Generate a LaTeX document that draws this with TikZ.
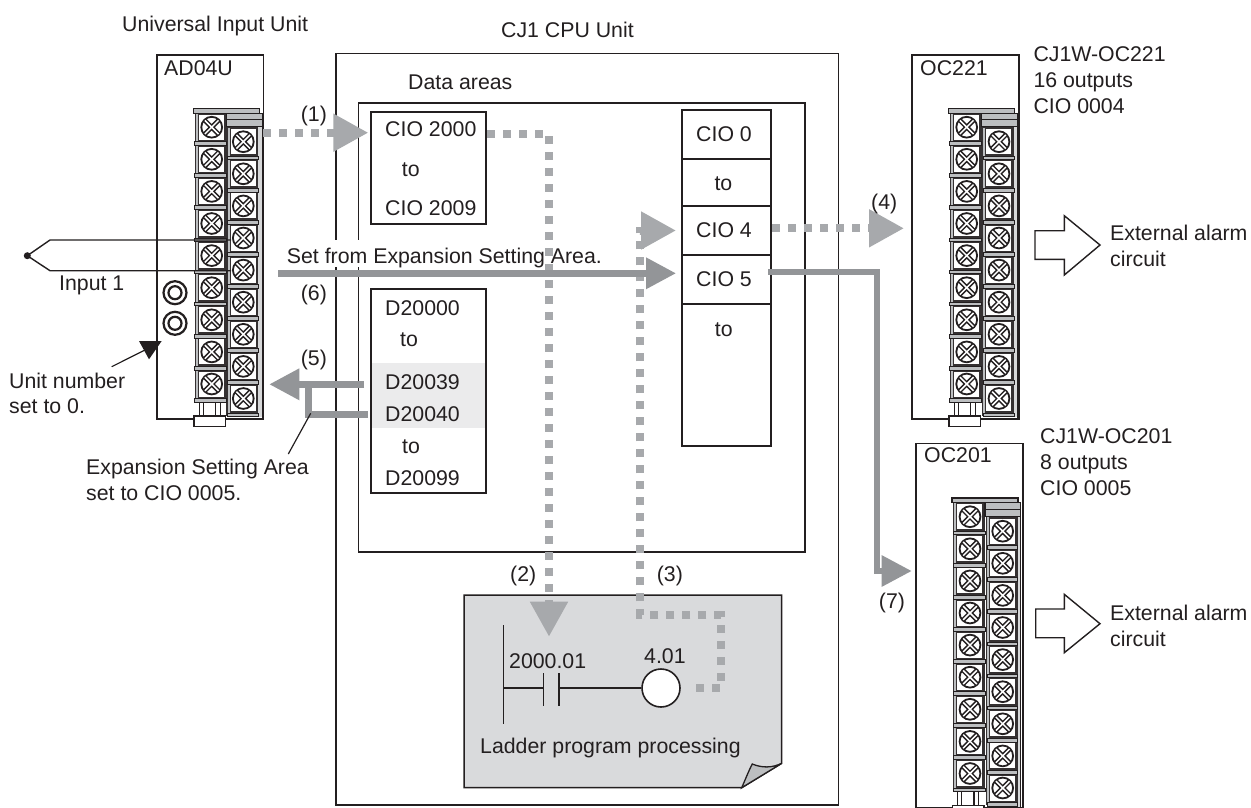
\documentclass[tikz,border=0pt]{standalone}
\usepackage{fontspec}
\setmainfont{Liberation Sans}
\usetikzlibrary{arrows.meta}
\definecolor{ink}{HTML}{231F20}
\definecolor{dashgray}{HTML}{A7A9AC}
\definecolor{solidgray}{HTML}{939598}
\definecolor{midgray}{HTML}{BCBEC0}
\definecolor{paper}{HTML}{D9DADC}
\definecolor{band}{HTML}{EBEBEC}
\tikzset{
  lbl/.style={anchor=base west,inner sep=0pt,font=\fontsize{21.3pt}{25pt}\selectfont,text=ink},
  unitbox/.style={draw=ink,line width=1.5pt,fill=white,anchor=north west,inner sep=0pt},
  membox/.style={draw=ink,line width=1.8pt,anchor=north west,inner sep=0pt},
  dashflow/.style={draw=dashgray,line width=8pt,dash pattern=on 8pt off 8pt},
  solidflow/.style={draw=solidgray,line width=6.5pt},
  bighead/.style={-{Triangle[length=35pt,width=36pt]}},
  midhead/.style={-{Triangle[length=30pt,width=30pt]}},
  thin leader/.style={draw=ink,line width=1.2pt},
  wire/.style={draw=ink,line width=1.4pt},
  bigarrow/.style={draw=ink,line width=1.4pt,fill=white},
}
\newcommand{\screwcell}[2]{%
  \begin{scope}[shift={(#1,#2)}]
    \fill[ink!92] (-17.2,-17) rectangle (15,17);
    \fill[midgray] (-15.6,-14) rectangle (-13.8,14);
    \fill[white] (-12.7,-12.5) rectangle (12.3,12.5);
    \draw[ink,line width=1.8pt,fill=white] (0,0) circle (10.4);
    \draw[ink,line width=4.6pt] (-7,-7) -- (7,7) (-7,7) -- (7,-7);
    \draw[white,line width=1.5pt] (-6.8,-6.8) -- (6.8,6.8) (-6.8,6.8) -- (6.8,-6.8);
  \end{scope}}
\newcommand{\termblock}[3]{%
  \begin{scope}[shift={(#1,#2)}]
    % foot
    \draw[ink,line width=1.3pt] (-12.5,272) -- (-12.5,292) (-8.5,272) -- (-8.5,292) (4,272) -- (4,292) (8.5,272) -- (8.5,292);
    \draw[ink,line width=1.5pt,fill=white] (-17.5,289) rectangle (14,299.5);
    % right column rail
    \fill[midgray!60] (46,-5) rectangle (51,290);
    \draw[ink,line width=1.2pt] (50.8,-14) -- (50.8,291);
    % columns
    \foreach \i in {0,...,8} {
      \screwcell{0}{\i*32.1}
      \screwcell{#3}{14.5+\i*32.1}
    }
    % separators
    \foreach \i in {0,...,8} {
      \draw[ink,line width=.9pt,fill=midgray] (-17,14.5+\i*32.1) rectangle (15,18.2+\i*32.1);
      \draw[ink,line width=.9pt,fill=midgray] (#3-15.5,29+\i*32.1) rectangle (#3+15,32.7+\i*32.1);
    }
    % top bars
    \draw[ink,line width=1.2pt,fill=midgray] (-18,-18.7) rectangle (48,-14);
    \draw[ink,line width=1.2pt,fill=midgray] (15,-14) rectangle (50.8,-7.5);
    \draw[ink,line width=1.2pt,fill=midgray] (15,-7.5) rectangle (50.8,-0.5);
  \end{scope}}
\begin{document}
\begin{tikzpicture}[x=1pt,y=-1pt]
\useasboundingbox (0,0) rectangle (1251,807);
\fill[white] (0,0) rectangle (1251,807);

% unit boxes
\node[unitbox,minimum width=106.5pt,minimum height=364pt] (ad04u) at (156,54) {};
\node[unitbox,minimum width=107.3pt,minimum height=364pt] (oc221) at (911,54.3) {};
\node[unitbox,minimum width=107pt,minimum height=364pt] (oc201) at (915,442.7) {};
\node[unitbox,minimum width=502.5pt,minimum height=751.5pt] (cpu) at (335,52.5) {};
\node[unitbox,minimum width=446.5pt,minimum height=449pt] (data) at (357.7,102) {};

% memory blocks
\fill[band] (370.5,363.3) rectangle (484.5,427.7);
\node[membox,minimum width=115.3pt,minimum height=112.3pt] (ciohi) at (370,110.7) {};
\node[membox,minimum width=115.3pt,minimum height=203.4pt] (dm) at (370,288.3) {};
\node[membox,fill=white,minimum width=89pt,minimum height=49.3pt] (cio0) at (681,109) {};
\node[membox,fill=white,minimum width=89pt,minimum height=46.4pt] (cioto) at (681,158.3) {};
\node[membox,fill=white,minimum width=89pt,minimum height=49.6pt] (cio4) at (681,204.7) {};
\node[membox,fill=white,minimum width=89pt,minimum height=49pt] (cio5) at (681,254.3) {};
\node[membox,fill=white,minimum width=89pt,minimum height=141.4pt] (ciorest) at (681,303.3) {};

% mask behind the long label
\fill[white] (284,240) rectangle (604,267);

% terminal blocks
\termblock{211.7}{127.2}{31.6}
\termblock{966.7}{127.2}{32.3}
\termblock{970}{516.7}{32.7}

% dials
\draw[ink,line width=2.2pt] (175,292.7) circle (11.5) (175,292.7) circle (6.5);
\draw[ink,line width=2.2pt] (175,323.3) circle (11.5) (175,323.3) circle (6.5);

% input wires
\node[circle,fill=ink,inner sep=0pt,minimum size=7pt] (tc) at (27.3,255.7) {};
\coordinate (wa) at (231,240);
\coordinate (wb) at (231,270.7);
\draw[wire] (tc.center) -- (50,240) -- (wa);
\draw[wire] (tc.center) -- (50,270.7) -- (wb);

% ladder sheet
\draw[ink,line width=1.5pt,fill=paper] (464,595) -- (781.7,595) -- (781.7,763.3) -- (741.7,787.7) -- (464,787.7) -- cycle;
\draw[ink,line width=1.3pt,fill=midgray] (741.7,787.7) .. controls (746,778) and (749,770) .. (752.3,764) .. controls (762,768) and (772,768) .. (781.7,763.3) -- cycle;

\node[circle,draw=ink,line width=1.6pt,fill=white,inner sep=0pt,minimum size=38pt] (coil) at (661,688) {};
\coordinate (rail1) at (503.3,625);
\coordinate (rail2) at (503.3,724.3);
\coordinate (ca1) at (543.3,673.3);
\coordinate (ca2) at (543.3,705.7);
\coordinate (cb1) at (558.7,673.3);
\coordinate (cb2) at (558.7,705.7);
\draw[ink,line width=1.6pt] (rail1) -- (rail2);
\draw[ink,line width=1.6pt] (ca1) -- (ca2);
\draw[ink,line width=1.6pt] (cb1) -- (cb2);
\draw[ink,line width=1.6pt] (503.3,688) -- (543.3,688);
\draw[ink,line width=1.6pt] (558.7,688) -- (coil.west);

% flow arrows
\coordinate (a1s) at (263,132.7);   \coordinate (a1e) at (368.3,132.7);
\draw[dashflow,bighead] (a1s) -- (a1e);
\coordinate (a2s) at (487.3,133.7); \coordinate (a2k) at (549,133.7); \coordinate (a2e) at (549,636.7);
\draw[dashflow,bighead] (a2s) -- (a2k) -- (a2e);
\coordinate (a3s) at (696,688);     \coordinate (a3e) at (676,230.5);
\draw[dashflow,bighead] (a3s) -- (720.7,688) -- (720.7,615) -- (640,615) -- (640,230.5) -- (a3e);
\coordinate (a4s) at (772.3,228.3); \coordinate (a4e) at (904,228.3);
\draw[dashflow,bighead] (a4s) -- (a4e);
\coordinate (a6s) at (278,273.3);   \coordinate (a6e) at (676,273.3);
\draw[solidflow,midhead] (a6s) -- (a6e);
\coordinate (a7s) at (768,272.3);   \coordinate (a7e) at (911.7,571);
\draw[solidflow,line width=6pt,midhead] (a7s) -- (877,272.3) -- (877,571) -- (a7e);
\coordinate (a5s) at (364,384.3);   \coordinate (a5e) at (269.3,384.3);
\draw[solidflow,midhead] (a5s) -- (a5e);
\coordinate (a5b) at (368,414.3);
\draw[solidflow] (a5b) -- (308.3,414.3) -- (308.3,384.3);

% leaders
\coordinate (l1s) at (111.7,366.7); \coordinate (l1e) at (149,348);
\draw[thin leader] (l1s) -- (l1e);
\fill[ink] (139,341) -- (161.7,341) -- (149,359.3) -- cycle;
\coordinate (l2s) at (288.3,454);   \coordinate (l2e) at (310.7,413.3);
\draw[thin leader] (l2s) -- (l2e);

% hollow arrows
\draw[bigarrow] (1035,230.7) -- (1064.3,230.7) -- (1064.3,215.7) -- (1100,245) -- (1064.3,275) -- (1064.3,259.3) -- (1035,259.3) -- cycle;
\draw[bigarrow] (1035.7,609) -- (1064.3,609) -- (1064.3,594.3) -- (1100,623.7) -- (1064.3,652.7) -- (1064.3,637.7) -- (1035.7,637.7) -- cycle;

% texts
\node[lbl] (t1) at (122,31) {Universal Input Unit};
\node[lbl] (t2) at (501,37.5) {CJ1 CPU Unit};
\node[lbl] (t3) at (164,75) {AD04U};
\node[lbl] (t4) at (920,75) {OC221};
\node[lbl] (t5) at (924,462.7) {OC201};
\node[lbl] (t6) at (1033.3,61.7) {CJ1W-OC221};
\node[lbl] (t7) at (1033.3,87.7) {16 outputs};
\node[lbl] (t8) at (1033.3,113.3) {CIO 0004};
\node[lbl] (t9) at (1040,443.3) {CJ1W-OC201};
\node[lbl] (t10) at (1040,469.3) {8 outputs};
\node[lbl] (t11) at (1040,495) {CIO 0005};
\node[lbl] (t12) at (408,89) {Data areas};
\node[lbl] (t13) at (385,136.7) {CIO 2000};
\node[lbl] (t14) at (401.7,176.7) {to};
\node[lbl] (t15) at (385,215.7) {CIO 2009};
\node[lbl] (t16) at (385,315) {D20000};
\node[lbl] (t17) at (400,346) {to};
\node[lbl] (t18) at (385,389) {D20039};
\node[lbl] (t19) at (385,421) {D20040};
\node[lbl] (t20) at (402,453.7) {to};
\node[lbl] (t21) at (385,485) {D20099};
\node[lbl] (t22) at (696,141.7) {CIO 0};
\node[lbl] (t23) at (714.3,190) {to};
\node[lbl] (t24) at (696,237.7) {CIO 4};
\node[lbl] (t25) at (696,286.7) {CIO 5};
\node[lbl] (t26) at (714.7,336.7) {to};
\node[lbl] (t27) at (286.7,263.3) {Set from Expansion Setting Area.};
\node[lbl] (t28) at (59,290) {Input 1};
\node[lbl] (t29) at (9,388.3) {Unit number};
\node[lbl] (t30) at (9,413.3) {set to 0.};
\node[lbl] (t31) at (86,474) {Expansion Setting Area};
\node[lbl] (t32) at (86,500) {set to CIO 0005.};
\node[lbl] (t33) at (300.7,121) {(1)};
\node[lbl] (t34) at (510,581.7) {(2)};
\node[lbl] (t35) at (656.7,581.7) {(3)};
\node[lbl] (t36) at (871,209) {(4)};
\node[lbl] (t37) at (300.7,365) {(5)};
\node[lbl] (t38) at (300.7,300) {(6)};
\node[lbl] (t39) at (878.7,608) {(7)};
\node[lbl] (t40) at (509,668.3) {2000.01};
\node[lbl] (t41) at (644,663.3) {4.01};
\node[lbl] (t42) at (480,753.3) {Ladder program processing};
\node[lbl] (t43) at (1110,240.7) {External alarm};
\node[lbl] (t44) at (1110,266) {circuit};
\node[lbl] (t45) at (1110,620.7) {External alarm};
\node[lbl] (t46) at (1110,646.7) {circuit};
\end{tikzpicture}
\end{document}
